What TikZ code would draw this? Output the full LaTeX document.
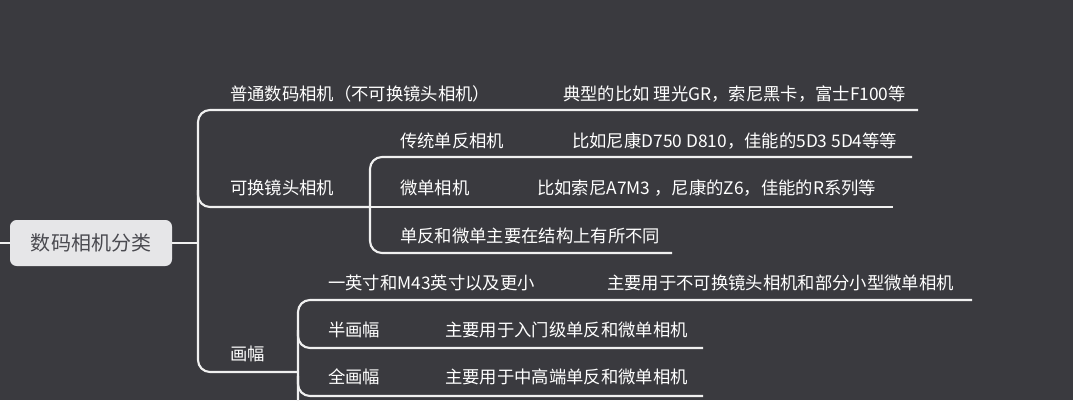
\documentclass[tikz,border=0pt]{standalone}
\usepackage{fontspec}
\setmainfont{Noto Sans CJK SC}
\usetikzlibrary{positioning}
\definecolor{bgdark}{HTML}{3A3A3F}
\definecolor{rootfill}{HTML}{E6E6E8}
\definecolor{rootink}{HTML}{4A4A50}
\definecolor{linegrey}{HTML}{F0F0F0}
\tikzset{
	branch/.style={draw=linegrey, line width=1.6pt, rounded corners=9pt},
	leaf/.style={anchor=base west, inner sep=0pt, text=white, font=\fontsize{13}{15}\selectfont},
	rootbox/.style={fill=rootfill, rounded corners=5pt, text=rootink, minimum width=121.5pt, minimum height=34.5pt, font=\fontsize{15}{17}\selectfont}
}
\begin{document}
\begin{tikzpicture}[x=0.75pt,y=-0.75pt]
	\fill[bgdark] (0,0) rectangle (1073,400);
	\useasboundingbox (0,0) rectangle (1073,400);
	% root
	\node[rootbox] (root) at (91,243) {数码相机分类};
	\coordinate (in) at (0,243);
	\draw[branch] (in) -- (root.west);
	% level one
	\coordinate (j1) at (198,243);
	\draw[branch] (root.east) -- (j1);
	\coordinate (e1) at (918,110);
	\coordinate (e2) at (370,207);
	\coordinate (e3) at (298,372);
	\draw[branch] (e1) -- (198,110) -- (198,372) -- (e3);
	\draw[branch] (198,190) |- (e2);
	\node[leaf] (pt) at (230,100) {普通数码相机（不可换镜头相机）};
	\node[leaf] (ptx) at (563,100) {典型的比如 理光GR，索尼黑卡，富士F100等};
	\node[leaf] (kh) at (230,194) {可换镜头相机};
	\node[leaf] (hf) at (230,360) {画幅};
	% interchangeable lens
	\coordinate (k1) at (912,157);
	\coordinate (k2) at (893,207);
	\coordinate (k3) at (672,253);
	\draw[branch] (k1) -- (370,157) -- (370,253) -- (k3);
	\draw[branch] (e2) -- (k2);
	\node[leaf] (df) at (400,147) {传统单反相机};
	\node[leaf] (dfx) at (572,147) {比如尼康D750 D810，佳能的5D3 5D4等等};
	\node[leaf] (wd) at (400,194) {微单相机};
	\node[leaf] (wdx) at (537,194) {比如索尼A7M3 ，尼康的Z6，佳能的R系列等};
	\node[leaf] (jg) at (400,242) {单反和微单主要在结构上有所不同};
	% sensor size
	\coordinate (h1) at (972,300);
	\coordinate (h2) at (703,348);
	\coordinate (h3) at (703,396);
	\draw[branch] (h1) -- (298,300) -- (298,420);
	\draw[branch] (298,330) |- (h2);
	\draw[branch] (298,376) |- (h3);
	\node[leaf] (yc) at (328,289) {一英寸和M43英寸以及更小};
	\node[leaf] (ycx) at (607,289) {主要用于不可换镜头相机和部分小型微单相机};
	\node[leaf] (bh) at (328,336) {半画幅};
	\node[leaf] (bhx) at (445,336) {主要用于入门级单反和微单相机};
	\node[leaf] (qh) at (328,383) {全画幅};
	\node[leaf] (qhx) at (445,383) {主要用于中高端单反和微单相机};
\end{tikzpicture}
\end{document}
